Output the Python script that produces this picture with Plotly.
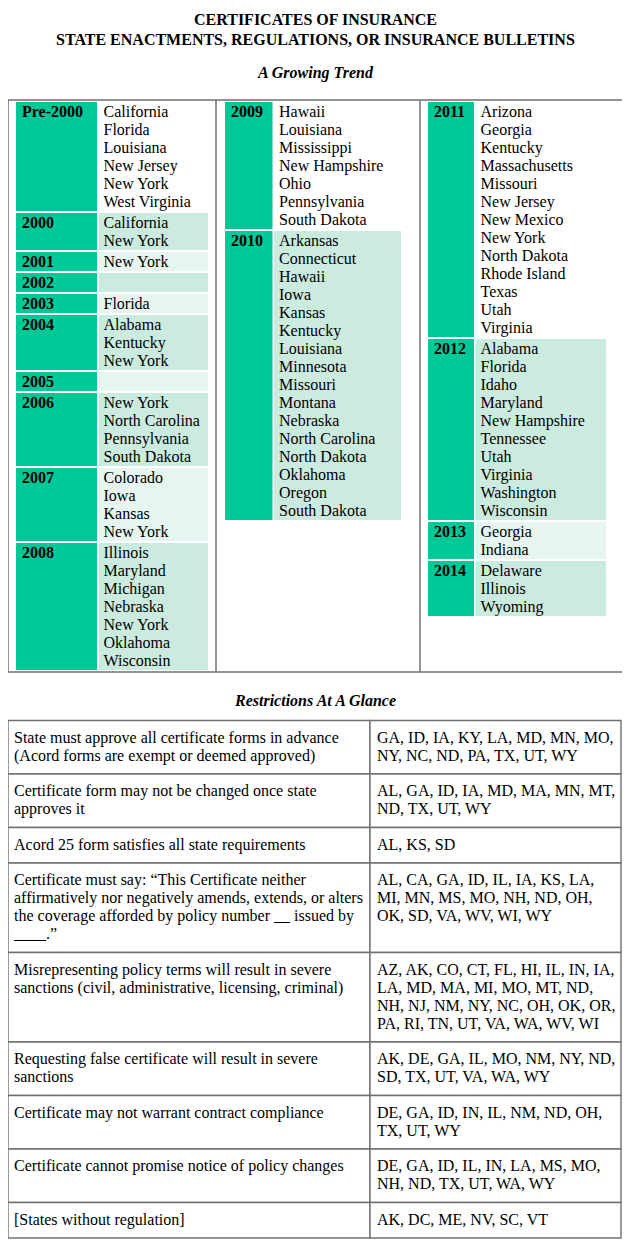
import plotly.graph_objects as go

# ---- A Growing Trend: year groups per column ----
col1_years = ["Pre-2000", "2000", "2001", "2002", "2003", "2004", "2005", "2006", "2007", "2008"]
col1_states = [
    ["California", "Florida", "Louisiana", "New Jersey", "New York", "West Virginia"],
    ["California", "New York"],
    ["New York"],
    [],
    ["Florida"],
    ["Alabama", "Kentucky", "New York"],
    [],
    ["New York", "North Carolina", "Pennsylvania", "South Dakota"],
    ["Colorado", "Iowa", "Kansas", "New York"],
    ["Illinois", "Maryland", "Michigan", "Nebraska", "New York", "Oklahoma", "Wisconsin"],
]

col2_years = ["2009", "2010"]
col2_states = [
    ["Hawaii", "Louisiana", "Mississippi", "New Hampshire", "Ohio", "Pennsylvania", "South Dakota"],
    ["Arkansas", "Connecticut", "Hawaii", "Iowa", "Kansas", "Kentucky", "Louisiana", "Minnesota",
     "Missouri", "Montana", "Nebraska", "North Carolina", "North Dakota", "Oklahoma", "Oregon",
     "South Dakota"],
]

col3_years = ["2011", "2012", "2013", "2014"]
col3_states = [
    ["Arizona", "Georgia", "Kentucky", "Massachusetts", "Missouri", "New Jersey", "New Mexico",
     "New York", "North Dakota", "Rhode Island", "Texas", "Utah", "Virginia"],
    ["Alabama", "Florida", "Idaho", "Maryland", "New Hampshire", "Tennessee", "Utah", "Virginia",
     "Washington", "Wisconsin"],
    ["Georgia", "Indiana"],
    ["Delaware", "Illinois", "Wyoming"],
]

# ---- Restrictions At A Glance ----
restrictions = [
    ["State must approve all certificate forms in advance", "(Acord forms are exempt or deemed approved)"],
    ["Certificate form may not be changed once state", "approves it"],
    ["Acord 25 form satisfies all state requirements"],
    ["Certificate must say: \u201cThis Certificate neither",
     "affirmatively nor negatively amends, extends, or alters",
     "the coverage afforded by policy number __ issued by",
     "____.\u201d"],
    ["Misrepresenting policy terms will result in severe",
     "sanctions (civil, administrative, licensing, criminal)"],
    ["Requesting false certificate will result in severe", "sanctions"],
    ["Certificate may not warrant contract compliance"],
    ["Certificate cannot promise notice of policy changes"],
    ["[States without regulation]"],
]
restricted_states = [
    ["GA, ID, IA, KY, LA, MD, MN, MO,", "NY, NC, ND, PA, TX, UT, WY"],
    ["AL, GA, ID, IA, MD, MA, MN, MT,", "ND, TX, UT, WY"],
    ["AL, KS, SD"],
    ["AL, CA, GA, ID, IL, IA, KS, LA,", "MI, MN, MS, MO, NH, ND, OH,", "OK, SD, VA, WV, WI, WY"],
    ["AZ, AK, CO, CT, FL, HI, IL, IN, IA,", "LA, MD, MA, MI, MO, MT, ND,",
     "NH, NJ, NM, NY, NC, OH, OK, OR,", "PA, RI, TN, UT, VA, WA, WV, WI"],
    ["AK, DE, GA, IL, MO, NM, NY, ND,", "SD, TX, UT, VA, WA, WY"],
    ["DE, GA, ID, IN, IL, NM, ND, OH,", "TX, UT, WY"],
    ["DE, GA, ID, IL, IN, LA, MS, MO,", "NH, ND, TX, UT, WA, WY"],
    ["AK, DC, ME, NV, SC, VT"],
]

# styles
FONT = "Liberation Serif, Times New Roman, serif"
GREEN = "#00C896"
MID = "#CCEBDF"
LIGHT = "#E6F5EF"
GRID = "#707070"
LINE_H = 18
FS = 16

# the page body has an 8px margin, so the axes start at 8 to keep page pixels as data units
OFF = 8
W, H = 630, 1250
fig = go.Figure()

columns = [
    (col1_years, col1_states, (16, 97, 98.5, 208)),
    (col2_years, col2_states, (225, 272.5, 274, 401)),
    (col3_years, col3_states, (428, 474, 475.5, 606)),
]

bx, bw, bb, by, bc = [], [], [], [], []   # cell bars
yr_x, yr_y, yr_t = [], [], []
st_x, st_y, st_t = [], [], []

for years, states, (yx0, yx1, sx0, sx1) in columns:
    top = 102
    for i, (yr, sts) in enumerate(zip(years, states)):
        n = max(1, len(sts))
        h = LINE_H * n + 1
        if i == 0:
            shade = "white"
        elif int(yr) % 2 == 0:
            shade = MID
        else:
            shade = LIGHT
        bx += [(yx0 + yx1) / 2, (sx0 + sx1) / 2]
        bw += [yx1 - yx0, sx1 - sx0]
        bb += [top, top]
        by += [h, h]
        bc += [GREEN, shade]
        yr_x.append(yx0 + 6)
        yr_y.append(top + 11)
        yr_t.append("<b>" + yr + "</b>")
        for j, s in enumerate(sts):
            st_x.append(sx0 + 5)
            st_y.append(top + 11 + LINE_H * j)
            st_t.append(s)
        top += h + 2

fig.add_trace(go.Bar(x=bx, y=by, base=bb, width=bw, marker=dict(color=bc, line=dict(width=0)),
                     hoverinfo="skip", showlegend=False))

# restrictions table cells
TX0, TX1, TXM = 8, 621, 370
tb_x, tb_w, tb_b, tb_y = [], [], [], []
rl_x, rl_y, rl_t = [], [], []
top = 720.5
for left, right in zip(restrictions, restricted_states):
    n = max(len(left), len(right))
    h = LINE_H * n + 17.5
    tb_x += [(TX0 + TXM) / 2, (TXM + TX1) / 2]
    tb_w += [TXM - TX0, TX1 - TXM]
    tb_b += [top, top]
    tb_y += [h, h]
    for j, s in enumerate(left):
        rl_x.append(TX0 + 6)
        rl_y.append(top + 18 + LINE_H * j)
        rl_t.append(s)
    for j, s in enumerate(right):
        rl_x.append(TXM + 7)
        rl_y.append(top + 18 + LINE_H * j)
        rl_t.append(s)
    top += h

fig.add_trace(go.Bar(x=tb_x, y=tb_y, base=tb_b, width=tb_w,
                     marker=dict(color="white", line=dict(color=GRID, width=1.4)),
                     hoverinfo="skip", showlegend=False))

txt_font = dict(family=FONT, size=FS, color="black")
for xs, ys, ts in [(yr_x, yr_y, yr_t), (st_x, st_y, st_t), (rl_x, rl_y, rl_t)]:
    fig.add_trace(go.Scatter(x=xs, y=ys, text=ts, mode="text", textposition="middle right",
                             textfont=txt_font, hoverinfo="skip", showlegend=False,
                             cliponaxis=False))

# frame of the top section
frame = dict(type="line", xref="x", yref="y", line=dict(color=GRID, width=1.5))
shapes = [
    dict(type="rect", xref="x", yref="y", x0=8, x1=623, y0=100, y1=672,
         line=dict(color=GRID, width=1.5), layer="above"),
    dict(frame, x0=216, x1=216, y0=100, y1=672),
    dict(frame, x0=420, x1=420, y0=100, y1=672),
]

ann_font = dict(family=FONT, size=FS, color="black")
annotations = [
    dict(x=315, y=19, text="<b>CERTIFICATES OF INSURANCE</b>"),
    dict(x=315, y=39, text="<b>STATE ENACTMENTS, REGULATIONS, OR INSURANCE BULLETINS</b>"),
    dict(x=315, y=73, text="<b><i>A Growing Trend</i></b>"),
    dict(x=315, y=700, text="<b><i>Restrictions At A Glance</i></b>"),
]
for a in annotations:
    a.update(xref="x", yref="y", showarrow=False, font=ann_font, xanchor="center", yanchor="middle")

fig.update_layout(
    width=W - OFF, height=H - OFF,
    margin=dict(l=0, r=0, t=0, b=0),
    paper_bgcolor="white", plot_bgcolor="white",
    barmode="overlay",
    xaxis=dict(range=[OFF, W], visible=False, fixedrange=True),
    yaxis=dict(range=[H, OFF], visible=False, fixedrange=True),
    shapes=shapes,
    annotations=annotations,
)

fig.write_html("out.html")
